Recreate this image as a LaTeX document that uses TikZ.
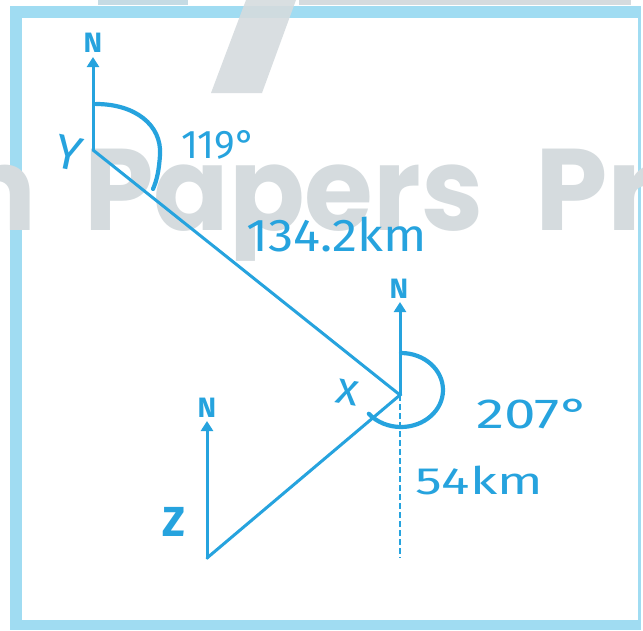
\documentclass[tikz,border=0pt]{standalone}
\usepackage{fontspec}
\setmainfont{Fira Sans}
\newfontfamily\wmfont{Poppins}
\usetikzlibrary{arrows.meta}
\definecolor{ink}{RGB}{38,163,222}
\definecolor{frameblue}{RGB}{160,220,242}
\definecolor{wmgray}{RGB}{213,219,222}
\tikzset{
  pen/.style={draw=ink, line width=3pt, line cap=round},
  arcpen/.style={draw=ink, line width=4.2pt, line cap=round},
  north/.style={pen, -{Triangle[length=10pt,width=12pt]}},
  dashpen/.style={draw=ink, line width=2.4pt, dash pattern=on 6pt off 3pt},
  lbl/.style={text=ink, inner sep=0pt},
  nlbl/.style={text=ink, inner sep=0pt, font=\bfseries\fontsize{28}{30}\selectfont},
  wm/.style={text=wmgray, inner sep=0pt, font=\wmfont\bfseries\fontsize{116}{120}\selectfont, anchor=base west}
}
\begin{document}
\begin{tikzpicture}[x=1pt,y=-1pt]
\useasboundingbox (0,0) rectangle (643,630);
% frame
\fill[frameblue] (10,6) rectangle (641,630);
\fill[white] (22,18) rectangle (638,620);
% watermark
\fill[wmgray!70!frameblue] (98,0) rectangle (188,5);
\fill[wmgray] (299,0) rectangle (631,5);
\fill[wmgray, opacity=0.9] (211,93) -- (262,93) -- (296,0) -- (246,0) -- cycle;
\node[wm] (wmn) at (-42,230) {n};
\node[wm, xscale=0.96] (wmp) at (84,230) {Papers};
\node[wm] (wmpr) at (535,230) {Pr};
% points
\coordinate (Y) at (93,150);
\coordinate (X) at (400,395);
\coordinate (Z) at (207,558);
\coordinate (YN) at (93,57);
\coordinate (XN) at (400,302);
\coordinate (ZN) at (207,421);
\coordinate (XS) at (400,558);
% lines
\draw[pen] (Y) -- (X) -- (Z);
\draw[north] (Y) -- (YN);
\draw[north] (X) -- (XN);
\draw[north] (Z) -- (ZN);
\draw[dashpen] (X) -- (XS);
% angle arcs
\draw[arcpen] (96,104) .. controls (135,104) and (162,125) .. (160,155) .. controls (159,170) and (157,180) .. (153,189);
\draw[arcpen] (401,353) arc[start angle=90, end angle=-140, x radius=42pt, y radius=37pt];
% labels
\node[nlbl] (nY) at (93,43) {N};
\node[nlbl] (nX) at (399,289) {N};
\node[nlbl] (nZ) at (207,408) {N};
\node[lbl, font=\fontsize{48}{50}\selectfont, rotate=-12] (lY) at (69,153) {Y};
\node[lbl, font=\fontsize{46}{48}\selectfont, rotate=-10] (lX) at (348,392) {x};
\node[lbl, font=\bfseries\fontsize{42}{44}\selectfont] (lZ) at (174,522) {Z};
\node[lbl, font=\fontsize{40}{42}\selectfont, anchor=base west, xscale=0.98] (a1) at (181,158) {119°};
\node[lbl, font=\fontsize{42}{44}\selectfont, anchor=base west, xscale=1.35] (a2) at (476,428) {207°};
\node[lbl, font=\fontsize{46}{48}\selectfont, anchor=base west, xscale=1.1] (d1) at (246,251) {134.2km};
\node[lbl, font=\fontsize{38}{40}\selectfont, anchor=base west, xscale=1.4] (d2) at (415,494) {54km};
\end{tikzpicture}
\end{document}
